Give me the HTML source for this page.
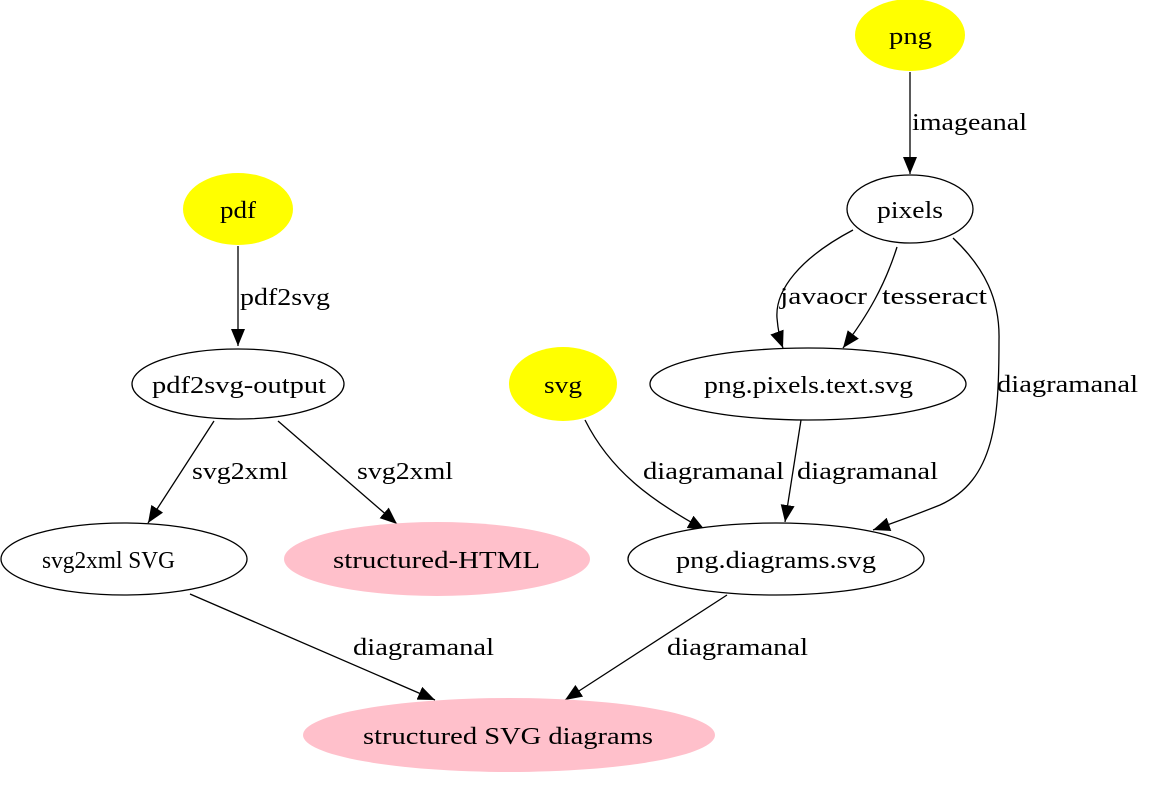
<!DOCTYPE html>
<html><head><meta charset="utf-8"><style>
html,body{margin:0;padding:0;background:#fff;}
svg{display:block;}
text{font-family:"Liberation Serif",serif;font-size:24px;fill:#000;}
</style></head><body>
<svg width="1174" height="790" viewBox="0 0 1174 790" xmlns="http://www.w3.org/2000/svg">
<defs>
<marker id="a" markerUnits="userSpaceOnUse" markerWidth="18" markerHeight="14" refX="17" refY="7" orient="auto">
<path d="M0,0 L17,7 L0,14 Z" fill="#000"/>
</marker>
</defs>
<g fill="none" stroke="#000" stroke-width="1.3">
<path d="M910,72 L910,174" marker-end="url(#a)"/>
<path d="M853,230 C800,258 775,290 777,318 C778,330 780,340 783,348" marker-end="url(#a)"/>
<path d="M897,247 C885,285 868,315 843,348" marker-end="url(#a)"/>
<path d="M953,238 C985,268 1000,300 999,340 C999,420 995,480 940,505 C915,515 893,523 873,530" marker-end="url(#a)"/>
<path d="M801,420 L785,522" marker-end="url(#a)"/>
<path d="M585,420 C610,470 650,500 705,530" marker-end="url(#a)"/>
<path d="M238,246 L238,346" marker-end="url(#a)"/>
<path d="M214,421 L148,523" marker-end="url(#a)"/>
<path d="M278,421 L397,524" marker-end="url(#a)"/>
<path d="M190,594 L435,700" marker-end="url(#a)"/>
<path d="M727,595 L565,700" marker-end="url(#a)"/>
</g>
<ellipse cx="910" cy="35" rx="55" ry="36" fill="#ffff00"/>
<ellipse cx="910" cy="209" rx="63" ry="34" fill="#fff" stroke="#000" stroke-width="1.3"/>
<ellipse cx="238" cy="209" rx="55" ry="36" fill="#ffff00"/>
<ellipse cx="238" cy="384" rx="106" ry="35" fill="#fff" stroke="#000" stroke-width="1.3"/>
<ellipse cx="563" cy="384" rx="54" ry="37" fill="#ffff00"/>
<ellipse cx="808" cy="384" rx="158" ry="36" fill="#fff" stroke="#000" stroke-width="1.3"/>
<ellipse cx="124" cy="559" rx="123" ry="36" fill="#fff" stroke="#000" stroke-width="1.3"/>
<ellipse cx="437" cy="559" rx="153" ry="37" fill="#ffc0cb"/>
<ellipse cx="776" cy="559" rx="148" ry="36" fill="#fff" stroke="#000" stroke-width="1.3"/>
<ellipse cx="509" cy="735" rx="206" ry="37" fill="#ffc0cb"/>
<text x="889" y="44" textLength="43" lengthAdjust="spacingAndGlyphs">png</text>
<text x="877" y="218" textLength="66" lengthAdjust="spacingAndGlyphs">pixels</text>
<text x="220" y="218" textLength="36" lengthAdjust="spacingAndGlyphs">pdf</text>
<text x="152" y="393" textLength="174" lengthAdjust="spacingAndGlyphs">pdf2svg-output</text>
<text x="544" y="393" textLength="38" lengthAdjust="spacingAndGlyphs">svg</text>
<text x="704" y="393" textLength="209" lengthAdjust="spacingAndGlyphs">png.pixels.text.svg</text>
<text x="42" y="568" textLength="133" lengthAdjust="spacingAndGlyphs">svg2xml SVG</text>
<text x="333" y="568" textLength="207" lengthAdjust="spacingAndGlyphs">structured-HTML</text>
<text x="676" y="568" textLength="200" lengthAdjust="spacingAndGlyphs">png.diagrams.svg</text>
<text x="363" y="744" textLength="290" lengthAdjust="spacingAndGlyphs">structured SVG diagrams</text>
<text x="912" y="130" textLength="115" lengthAdjust="spacingAndGlyphs">imageanal</text>
<text x="780" y="304" textLength="87" lengthAdjust="spacingAndGlyphs">javaocr</text>
<text x="882" y="304" textLength="105" lengthAdjust="spacingAndGlyphs">tesseract</text>
<text x="997" y="392" textLength="141" lengthAdjust="spacingAndGlyphs">diagramanal</text>
<text x="797" y="479" textLength="141" lengthAdjust="spacingAndGlyphs">diagramanal</text>
<text x="643" y="479" textLength="141" lengthAdjust="spacingAndGlyphs">diagramanal</text>
<text x="240" y="305" textLength="90" lengthAdjust="spacingAndGlyphs">pdf2svg</text>
<text x="192" y="479" textLength="96" lengthAdjust="spacingAndGlyphs">svg2xml</text>
<text x="357" y="479" textLength="96" lengthAdjust="spacingAndGlyphs">svg2xml</text>
<text x="353" y="655" textLength="141" lengthAdjust="spacingAndGlyphs">diagramanal</text>
<text x="667" y="655" textLength="141" lengthAdjust="spacingAndGlyphs">diagramanal</text>
</svg>
</body></html>
